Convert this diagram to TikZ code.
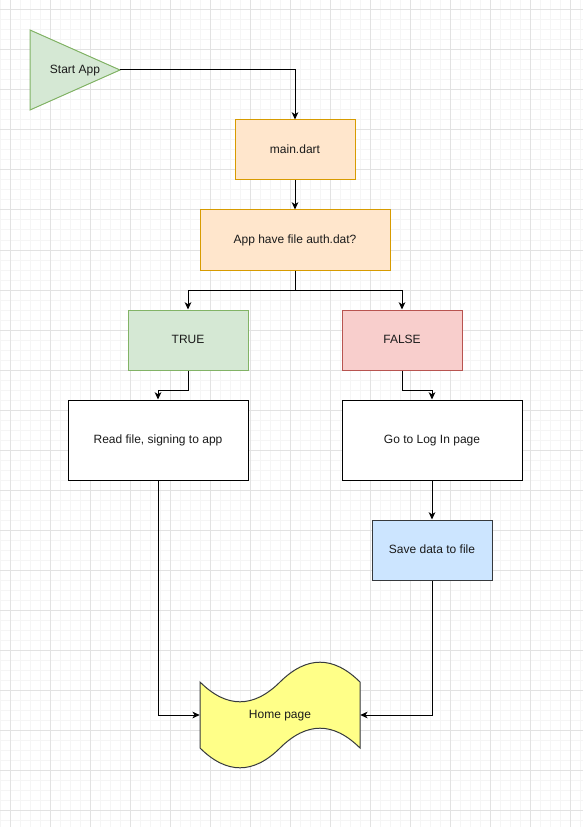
\documentclass[tikz,border=0pt]{standalone}
\usepackage{fontspec}
\setmainfont{Liberation Sans}
\usetikzlibrary{arrows.meta}
\definecolor{gridminor}{HTML}{F5F5F5}
\definecolor{gridmajor}{HTML}{E2E2E2}
\definecolor{gfill}{HTML}{D5E8D4}
\definecolor{gline}{HTML}{82B366}
\definecolor{ofill}{HTML}{FFE6CC}
\definecolor{oline}{HTML}{D79B00}
\definecolor{rfill}{HTML}{F8CECC}
\definecolor{rline}{HTML}{B85450}
\definecolor{bfill}{HTML}{CCE5FF}
\definecolor{bline}{HTML}{36393D}
\definecolor{yfill}{HTML}{FFFF88}
\definecolor{yline}{HTML}{36393D}
\definecolor{txt}{HTML}{1A1A1A}
\tikzset{
  box/.style={draw, line width=0.75pt, rectangle, inner sep=0pt, font=\fontsize{9pt}{11pt}\selectfont, text=txt, text height=6.6pt, text depth=1.9pt},
  greenbox/.style={box, fill=gfill, draw=gline},
  orangebox/.style={box, fill=ofill, draw=oline},
  redbox/.style={box, fill=rfill, draw=rline},
  bluebox/.style={box, fill=bfill, draw=bline},
  whitebox/.style={box, fill=white, draw=black},
  sz/.style 2 args={minimum width=#1*0.75pt, minimum height=#2*0.75pt},
  conn/.style={line width=0.75pt, -{Stealth[length=5.5pt, width=5pt, inset=1.6pt]}},
  lbl/.style={inner sep=0pt, font=\fontsize{9pt}{11pt}\selectfont, text=txt, text height=6.6pt, text depth=1.9pt}
}
\begin{document}
\begin{tikzpicture}[x=0.75pt, y=-0.75pt]
\useasboundingbox (0,0) rectangle (583,827);
\fill[white] (0,0) rectangle (583,827);
% grid
\foreach \i in {0,10,...,580} {\draw[gridminor, line width=0.75pt] (\i,0) -- (\i,827);}
\foreach \j in {0,10,...,820} {\draw[gridminor, line width=0.75pt] (0,\j) -- (583,\j);}
\foreach \i in {10,50,...,570} {\draw[gridmajor, line width=0.75pt] (\i,0) -- (\i,827);}
\foreach \j in {10,50,...,810} {\draw[gridmajor, line width=0.75pt] (0,\j) -- (583,\j);}
% start triangle
\coordinate (tip) at (120,70);
\filldraw[fill=gfill, draw=gline, line width=0.75pt] (30,30) -- (tip) -- (30,110) -- cycle;
\node[lbl] (start) at (75,70) {Start App};
% boxes
\node[orangebox, sz={120}{60}] (main) at (295,150) {main.dart};
\node[orangebox, sz={190}{60}] (auth) at (295,240) {App have file auth.dat?};
\node[greenbox, sz={120}{60}] (true) at (188,340) {TRUE};
\node[redbox, sz={120}{60}] (false) at (402,340) {FALSE};
\node[whitebox, sz={180}{80}] (read) at (158,440) {Read file, signing to app};
\node[whitebox, sz={180}{80}] (login) at (432,440) {Go to Log In page};
\node[bluebox, sz={120}{60}] (save) at (432,550) {Save data to file};
% home tape
\filldraw[fill=yfill, draw=yline, line width=0.75pt]
  (200,682) .. controls (226.67,708.4) and (253.33,708.4) .. (280,682)
  .. controls (306.67,655.6) and (333.33,655.6) .. (360,682)
  -- (360,748)
  .. controls (333.33,721.6) and (306.67,721.6) .. (280,748)
  .. controls (253.33,774.4) and (226.67,774.4) .. (200,748) -- cycle;
\node[lbl, minimum width=120pt, minimum height=82.5pt] (home) at (280,715) {Home page};
% connectors
\draw[conn] (tip) -| (main.north);
\draw[conn] (main.south) -- (auth.north);
\draw[conn] (auth.south) -- ++(0,20) -| (true.north);
\draw[conn] (auth.south) -- ++(0,20) -| (false.north);
\draw[conn] (true.south) -- ++(0,20) -| (read.north);
\draw[conn] (false.south) -- ++(0,20) -| (login.north);
\draw[conn] (login.south) -- (save.north);
\draw[conn] (read.south) |- (home.west);
\draw[conn] (save.south) |- (home.east);
\end{tikzpicture}
\end{document}
